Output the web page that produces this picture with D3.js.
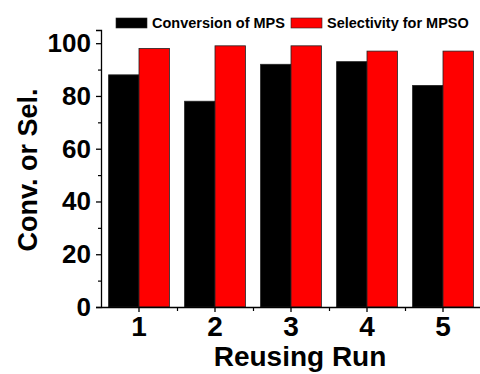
<!DOCTYPE html>
<html>
<head>
<meta charset="utf-8">
<script src="https://cdn.jsdelivr.net/npm/d3@7"></script>
<style>
  body { margin: 0; background: #fff; }
  text { font-family: "Liberation Sans", Arial, sans-serif; font-weight: bold; }
</style>
</head>
<body>
<div id="chart_div"></div>
<script>
// data
const runs = ["1", "2", "3", "4", "5"]
const seriesNames = ["Conversion of MPS", "Selectivity for MPSO"]
const conversion = [88, 78, 92, 93, 84]
const selectivity = [98, 99, 99, 97, 97]
const yTicks = [0, 20, 40, 60, 80, 100]
const yMinorTicks = [10, 30, 50, 70, 90]
const seriesColors = ["#000000", "#ff0000"]

const width = 480, height = 374
const margin = {top: 30, left: 101, bottom: 67}

const svg = d3.select("#chart_div")
  .append("svg")
  .attr("width", width)
  .attr("height", height)

// scales
const x = d3.scaleBand()
  .domain(runs)
  .range([margin.left, 481])
  .paddingInner(0.2)
  .paddingOuter(0.1)

const xSub = d3.scaleBand()
  .domain(seriesNames)
  .range([0, x.bandwidth()])

// used only for the minor ticks between the groups
const xLin = d3.scaleLinear()
  .domain([0.5, 5.5])
  .range([margin.left, 481])

const y = d3.scaleLinear()
  .domain([0, 105])
  .range([307, margin.top])

// bars
const data = runs.map((r, i) => ({run: r, values: [conversion[i], selectivity[i]]}))

const groups = svg.selectAll(".group")
  .data(data)
  .join("g")
  .attr("class", "group")
  .attr("transform", d => `translate(${x(d.run)},0)`)

groups.selectAll("rect")
  .data(d => d.values.map((v, j) => ({name: seriesNames[j], v: v, c: seriesColors[j]})))
  .join("rect")
  .attr("x", d => xSub(d.name))
  .attr("y", d => y(d.v))
  .attr("width", xSub.bandwidth())
  .attr("height", d => y(0) - y(d.v))
  .attr("fill", d => d.c)
  .attr("stroke", "#222")
  .attr("stroke-width", 0.8)

// axes
const yAxis = svg.append("g")
  .attr("transform", `translate(${margin.left},0)`)
  .call(d3.axisLeft(y).tickValues(yTicks).tickSize(5).tickPadding(5))
yAxis.selectAll("text").attr("font-size", 26).attr("fill", "#000")
yAxis.select(".domain").attr("stroke-width", 1.3)
yAxis.selectAll(".tick line").attr("stroke-width", 1.3)

svg.append("g")
  .attr("transform", `translate(${margin.left},0)`)
  .call(d3.axisLeft(y).tickValues(yMinorTicks).tickSize(3).tickFormat(""))
  .call(g => g.select(".domain").remove())
  .selectAll(".tick line").attr("stroke-width", 1.2)

const xAxis = svg.append("g")
  .attr("transform", `translate(0,${y(0)})`)
  .call(d3.axisBottom(x).tickSize(5).tickPadding(4).tickSizeOuter(0))
xAxis.selectAll("text").attr("font-size", 28).attr("fill", "#000")
xAxis.select(".domain").attr("stroke-width", 1.3)
xAxis.selectAll(".tick line").attr("stroke-width", 1.3)

svg.append("g")
  .attr("transform", `translate(0,${y(0)})`)
  .call(d3.axisBottom(xLin).tickValues([1.5, 2.5, 3.5, 4.5]).tickSize(4).tickFormat(""))
  .call(g => g.select(".domain").remove())
  .selectAll(".tick line").attr("stroke-width", 1.2)

// axis titles
svg.append("text")
  .attr("x", 300)
  .attr("y", 366)
  .attr("text-anchor", "middle")
  .attr("font-size", 28)
  .text("Reusing Run")

svg.append("text")
  .attr("transform", "translate(37,170) rotate(-90)")
  .attr("text-anchor", "middle")
  .attr("font-size", 27)
  .text("Conv. or Sel.")

// legend
const legendX = [116, 291]
const legend = svg.selectAll(".legend")
  .data(seriesNames)
  .join("g")
  .attr("class", "legend")
  .attr("transform", (d, i) => `translate(${legendX[i]},18)`)

legend.append("rect")
  .attr("width", 31)
  .attr("height", 10)
  .attr("fill", (d, i) => seriesColors[i])
  .attr("stroke", "#222")
  .attr("stroke-width", 0.6)

legend.append("text")
  .attr("x", 36)
  .attr("y", 10)
  .attr("font-size", 14.5)
  .text(d => d)
</script>
</body>
</html>
